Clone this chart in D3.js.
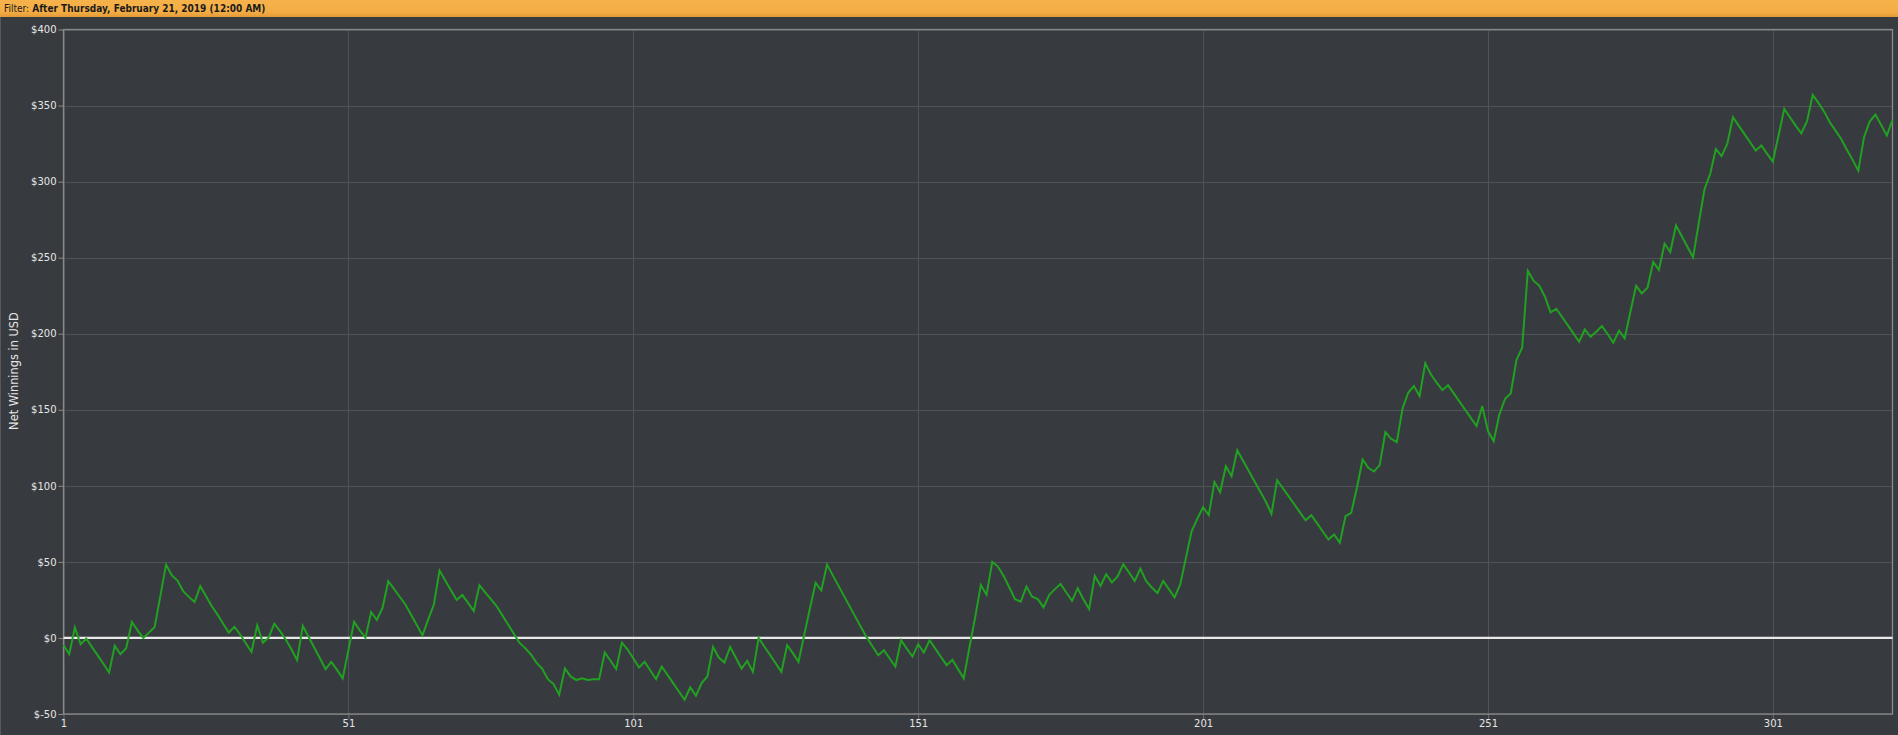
<!DOCTYPE html>
<html>
<head>
<meta charset="utf-8">
<script src="https://cdn.jsdelivr.net/npm/d3@7"></script>
<style>
	html, body { margin: 0; padding: 0; background: #373a3e; overflow: hidden; }
	svg { display: block; }
	.tick text { font-family: "DejaVu Sans", Verdana, sans-serif; font-size: 10px; fill: #e6e6e6; }
</style>
</head>
<body>
<svg id="chart" width="1898" height="735"></svg>
<script>
'use strict';

//Header text
var filterLabel = "Filter:";
var filterValue = "After Thursday, February 21, 2019 (12:00 AM)";
var yAxisTitle = "Net Winnings in USD";

//Tick values
var xTicks = [1, 51, 101, 151, 201, 251, 301];
var yTicks = [-50, 0, 50, 100, 150, 200, 250, 300, 350, 400];

//Net winnings after each session (session 1..322)
var netWinnings = [
	-4.6, -10.7, 6.8, -4.1, -0.4, -6, -11.5, -17, -22.7, -5.2,
	-10.7, -6.8, 10.5, 5, 0, 3.5, 7.2, 27.7, 48.2, 41.2,
	37.7, 30.8, 27, 23.6, 34, 27.5, 21, 15.5, 9.5, 3.5,
	7.4, 2.3, -3.5, -9.2, 8.3, -3.1, 0.2, 9.4, 4.5, -1,
	-7.4, -14.6, 7.9, 0.8, -6.3, -13.4, -20.5, -15.7, -21, -26.6,
	-8, 10.6, 5, 0.2, 17, 11.8, 19.9, 37.3, 32.2, 27.1,
	22, 15.2, 8.5, 1.7, 12, 22, 44.3, 37.8, 31.3, 24.9,
	28.2, 23, 17.7, 34.7, 30, 25.5, 21, 15, 9, 3,
	-3.1, -6.5, -10.7, -16.2, -20.1, -27.1, -30.3, -37.3, -20.1, -25.3,
	-27.7, -26.6, -27.7, -27.1, -27.1, -9.6, -15, -20.5, -3.1, -7.6,
	-13.3, -19.4, -15.7, -21.4, -27.1, -18.8, -24.3, -29.7, -35.2, -40.6,
	-32.5, -38, -29.7, -25.3, -5.9, -12.9, -16.2, -5.9, -13, -20.1,
	-15.1, -22.3, 0, -5.6, -11.1, -16.7, -22.3, -4.8, -10, -15.7,
	2, 19.4, 36.2, 31.2, 48.2, 41.3, 34.4, 27.5, 20.6, 13.7,
	6.9, 0.2, -5.6, -11.4, -8.1, -13.5, -18.8, -1.5, -7, -12.2,
	-4.1, -9.6, -1.5, -7, -12.5, -17.9, -14.4, -20.5, -26.6, -6.1,
	13.5, 34.8, 28.4, 50, 46.9, 40.8, 33.2, 25.5, 23.8, 33.8,
	27.1, 25.5, 20.1, 28.4, 32.1, 35.4, 29.9, 24.4, 32.7, 25.5,
	19, 40.8, 34.3, 41.9, 36.5, 40.4, 48.5, 43, 37.5, 45.6,
	37.5, 33.2, 29.5, 37.5, 32.1, 26.6, 35.4, 52.8, 70.3, 78.4,
	86, 80.8, 102.6, 95.8, 112.9, 106.3, 123.3, 116.6, 109.9, 103.2,
	96.5, 89.8, 81.6, 103.7, 98.4, 93.2, 87.9, 82.6, 77.4, 80.7,
	75.5, 70, 64.7, 68, 62.5, 80, 82.2, 98.7, 117.3, 111.8,
	109.4, 113.6, 135.3, 130.9, 128.7, 150.7, 161.2, 165.6, 159, 180.5,
	173.2, 167.8, 162.9, 166.2, 160.8, 155.4, 150, 144.7, 139.3, 152.4,
	136, 129.4, 146.9, 157.2, 160.7, 182.7, 190.8, 241.4, 234.9, 231.6,
	224.3, 214, 216.4, 211, 205.7, 200.2, 194.7, 202.8, 198, 201.3,
	205, 199.8, 194.1, 202, 197, 214.4, 231.5, 226.5, 230.2, 247.2,
	242, 259.2, 253.7, 271.2, 264.2, 257.2, 250.2, 272.8, 295, 305,
	321.5, 316.7, 324.8, 342.3, 336.8, 331.4, 325.9, 320.4, 323.7, 318.2,
	313.2, 330.3, 347.8, 342.3, 336.8, 331.8, 339.7, 357, 351.8, 346,
	339, 333.5, 328, 321, 314.3, 307.2, 329.2, 339.5, 344.1, 337.3,
	330.3, 340.6
];

var width = 1898, height = 735;
var headerHeight = 17;
var margin = { top: 29.5, right: 5.5, bottom: 21, left: 63.5 };

var svg = d3.select("#chart");

//Header bar
var defs = svg.append("defs");
var grad = defs.append("linearGradient")
	.attr("id", "hdrGrad")
	.attr("x1", 0).attr("y1", 0).attr("x2", 0).attr("y2", 1);
grad.append("stop").attr("offset", "0%").attr("stop-color", "#f6b24b");
grad.append("stop").attr("offset", "70%").attr("stop-color", "#f4ad45");
grad.append("stop").attr("offset", "100%").attr("stop-color", "#e49a36");

svg.append("rect")
	.attr("x", 0).attr("y", 0)
	.attr("width", width).attr("height", headerHeight)
	.attr("fill", "url(#hdrGrad)");

var hdrText = svg.append("text")
	.attr("x", 4).attr("y", 12)
	.attr("font-family", "'DejaVu Sans Condensed', 'DejaVu Sans', sans-serif")
	.attr("font-size", "10px")
	.attr("fill", "#1b1b1b");
hdrText.append("tspan").text(filterLabel);
hdrText.append("tspan").attr("font-weight", "bold").text(" " + filterValue);

//Left edge line of the panel
svg.append("line")
	.attr("x1", 0.5).attr("x2", 0.5)
	.attr("y1", headerHeight).attr("y2", height)
	.attr("stroke", "#55585c");

//Scales
var x = d3.scaleLinear()
	.domain([1, netWinnings.length])
	.range([margin.left, width - margin.right]);

var y = d3.scaleLinear()
	.domain([-50, 400])
	.range([height - margin.bottom, margin.top]);

var plot = svg.append("g");

//Grid lines
plot.append("g")
	.selectAll("line.hgrid")
	.data(yTicks)
	.enter().append("line")
	.attr("x1", margin.left).attr("x2", width - margin.right)
	.attr("y1", function(d) { return Math.round(y(d)) + 0.5; })
	.attr("y2", function(d) { return Math.round(y(d)) + 0.5; })
	.attr("stroke", "#4f5357");

plot.append("g")
	.selectAll("line.vgrid")
	.data(xTicks)
	.enter().append("line")
	.attr("x1", function(d) { return Math.round(x(d)) + 0.5; })
	.attr("x2", function(d) { return Math.round(x(d)) + 0.5; })
	.attr("y1", margin.top).attr("y2", height - margin.bottom)
	.attr("stroke", "#4f5357");

//Axes
var yAxis = d3.axisLeft(y)
	.tickValues(yTicks)
	.tickSize(5)
	.tickPadding(2)
	.tickFormat(function(d) { return "$" + d; });

var xAxis = d3.axisBottom(x)
	.tickValues(xTicks)
	.tickSize(5)
	.tickPadding(1)
	.tickFormat(d3.format("d"));

var yG = svg.append("g")
	.attr("transform", "translate(" + margin.left + ",0)")
	.call(yAxis);
yG.select(".domain").remove();
yG.selectAll(".tick line").attr("stroke", "#8c8c8c");

var xG = svg.append("g")
	.attr("transform", "translate(0," + (height - margin.bottom) + ")")
	.call(xAxis);
xG.select(".domain").remove();
xG.selectAll(".tick line").attr("stroke", "#6a6d70");

//Plot frame
svg.append("rect")
	.attr("x", margin.left).attr("y", margin.top)
	.attr("width", width - margin.right - margin.left)
	.attr("height", height - margin.bottom - margin.top)
	.attr("fill", "none")
	.attr("stroke", "#8a8a8a")
	.attr("stroke-width", 1.3);

//Zero line
svg.append("line")
	.attr("x1", margin.left).attr("x2", width - margin.right)
	.attr("y1", y(0)).attr("y2", y(0))
	.attr("stroke", "#e9e9e9")
	.attr("stroke-width", 2.2);

//Winnings line
var line = d3.line()
	.x(function(d, i) { return x(i + 1); })
	.y(function(d) { return y(d); });

svg.append("path")
	.datum(netWinnings)
	.attr("d", line)
	.attr("fill", "none")
	.attr("stroke", "#21a121")
	.attr("stroke-width", 2)
	.attr("stroke-linejoin", "miter");

//Y axis title
svg.append("text")
	.attr("transform", "translate(18,371) rotate(-90)")
	.attr("text-anchor", "middle")
	.attr("font-family", "'DejaVu Sans', Verdana, sans-serif")
	.attr("font-size", "11.4px")
	.attr("fill", "#e6e6e6")
	.text(yAxisTitle);
</script>
</body>
</html>
